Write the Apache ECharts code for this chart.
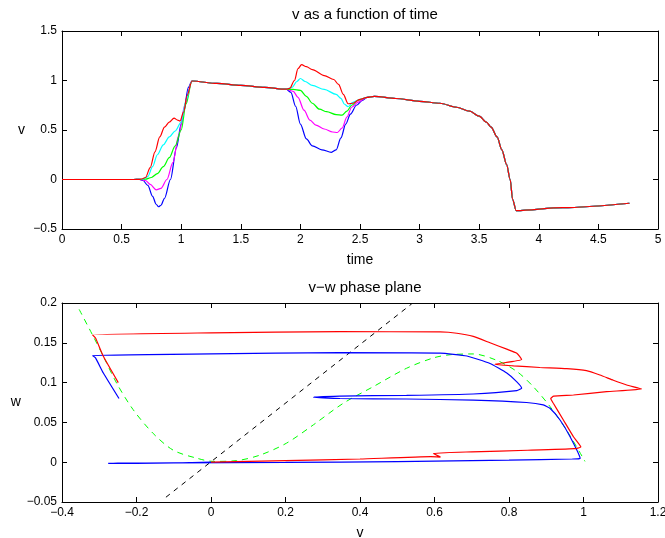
<!DOCTYPE html>
<html>
<head>
<meta charset="utf-8">
<script src="https://cdn.jsdelivr.net/npm/echarts@6/dist/echarts.min.js"></script>
<style>
  html, body { margin: 0; padding: 0; background: #fff; }
  #chart { width: 665px; height: 538px; }
</style>
</head>
<body>
<div id="chart"></div>
<script>
// ---- Tick labels ----
const timeTickLabels = ['0', '0.5', '1', '1.5', '2', '2.5', '3', '3.5', '4', '4.5', '5'];
const vTickLabels = ['\u22120.5', '0', '0.5', '1', '1.5'];
const phaseVTickLabels = ['\u22120.4', '\u22120.2', '0', '0.2', '0.4', '0.6', '0.8', '1', '1.2'];
const phaseWTickLabels = ['\u22120.05', '0', '0.05', '0.1', '0.15', '0.2'];

// ---- v(t) traces: [time, v] ----
// resting segment shared by all runs
const restSegment = [[0, 0], [0.3, 0], [0.6, 0], [0.65, 0.001]];
// first excursion, one per run
const blueRise = [[0.68, -0.01], [0.72, -0.06], [0.76, -0.17], [0.79, -0.25], [0.81, -0.275], [0.83, -0.26], [0.86, -0.19], [0.91, 0.0], [0.96, 0.32], [1.0, 0.56], [1.02, 0.68], [1.06, 0.93], [1.09, 0.995]];
const magentaRise = [[0.7, -0.01], [0.74, -0.05], [0.79, -0.105], [0.83, -0.09], [0.88, 0.0], [0.93, 0.17], [0.98, 0.45], [1.03, 0.75], [1.09, 0.995]];
const greenRise = [[0.7, 0.003], [0.75, 0.02], [0.8, 0.06], [0.85, 0.13], [0.9, 0.22], [0.95, 0.34], [1.0, 0.5], [1.04, 0.76], [1.09, 0.995]];
const cyanRise = [[0.68, 0.004], [0.72, 0.03], [0.76, 0.13], [0.8, 0.25], [0.85, 0.35], [0.9, 0.43], [0.95, 0.49], [1.0, 0.58], [1.04, 0.8], [1.09, 0.995]];
const redRise = [[0.67, 0.005], [0.7, 0.02], [0.74, 0.12], [0.78, 0.28], [0.82, 0.43], [0.86, 0.53], [0.9, 0.58], [0.94, 0.62], [0.97, 0.6], [0.99, 0.59], [1.02, 0.68], [1.05, 0.85], [1.09, 0.995]];
// plateau shared by all runs
const plateauSegment = [[1.3, 0.97], [1.5, 0.95], [1.7, 0.93], [1.88, 0.912]];
// second stimulus response, one per run
const blueBump = [[1.92, 0.88], [1.96, 0.74], [2.0, 0.56], [2.05, 0.41], [2.1, 0.34], [2.18, 0.3], [2.26, 0.275], [2.3, 0.3], [2.34, 0.42], [2.38, 0.56], [2.42, 0.66], [2.47, 0.75], [2.52, 0.8], [2.56, 0.83]];
const magentaBump = [[1.94, 0.89], [1.98, 0.83], [2.03, 0.7], [2.08, 0.6], [2.13, 0.55], [2.2, 0.51], [2.27, 0.48], [2.31, 0.475], [2.35, 0.52], [2.39, 0.63], [2.43, 0.73], [2.48, 0.78], [2.56, 0.83]];
const greenBump = [[1.94, 0.91], [2.0, 0.9], [2.05, 0.84], [2.1, 0.77], [2.16, 0.71], [2.22, 0.685], [2.3, 0.655], [2.35, 0.65], [2.39, 0.69], [2.43, 0.75], [2.48, 0.8], [2.56, 0.83]];
const cyanBump = [[1.93, 0.93], [1.97, 0.99], [2.0, 1.02], [2.04, 0.99], [2.1, 0.95], [2.2, 0.91], [2.3, 0.86], [2.34, 0.82], [2.37, 0.76], [2.4, 0.735], [2.44, 0.78], [2.5, 0.81], [2.56, 0.83]];
const redBump = [[1.91, 0.92], [1.95, 1.0], [1.98, 1.12], [2.01, 1.16], [2.05, 1.14], [2.1, 1.11], [2.2, 1.05], [2.28, 1.01], [2.32, 0.96], [2.36, 0.86], [2.4, 0.765], [2.44, 0.77], [2.5, 0.81], [2.56, 0.83]];
// repolarisation and recovery shared by all runs
const tailSegment = [[2.62, 0.84], [2.8, 0.818], [3.0, 0.79], [3.17, 0.77], [3.31, 0.73], [3.42, 0.69], [3.5, 0.64], [3.56, 0.58], [3.6, 0.53], [3.65, 0.43], [3.69, 0.3], [3.73, 0.15], [3.76, 0.0], [3.78, -0.2], [3.81, -0.315], [4.2, -0.285], [4.76, -0.24]];

// ---- phase plane: [v, w] ----
const redPhase = [[0, 0], [0.2, 0.002], [0.4, 0.004], [0.59, 0.007], [0.616, 0.0065], [0.597, 0.011], [0.7, 0.013], [0.85, 0.015], [0.975, 0.017], [0.993, 0.019], [0.973, 0.032], [0.946, 0.053], [0.919, 0.074], [0.912, 0.08], [0.92, 0.083], [0.973, 0.0844], [1.062, 0.0886], [1.156, 0.092], [1.116, 0.097], [1.08, 0.103], [1.044, 0.1095], [1.008, 0.115], [0.955, 0.1175], [0.883, 0.119], [0.812, 0.121], [0.762, 0.123], [0.834, 0.129], [0.821, 0.137], [0.794, 0.142], [0.749, 0.15], [0.704, 0.158], [0.66, 0.162], [0.615, 0.1636], [0.346, 0.164], [0.0, 0.1625], [-0.318, 0.16], [-0.31, 0.156], [-0.289, 0.133], [-0.249, 0.1]];
const bluePhase = [[0, 0], [-0.1, -0.001], [-0.2, -0.0015], [-0.276, -0.0015], [-0.25, -0.0012], [-0.1, -0.0008], [0.2, -0.0003], [0.5, 0.0008], [0.8, 0.0025], [0.97, 0.004], [0.991, 0.0048], [0.964, 0.032], [0.937, 0.053], [0.91, 0.0677], [0.892, 0.072], [0.847, 0.075], [0.704, 0.078], [0.525, 0.0794], [0.346, 0.08], [0.275, 0.0815], [0.346, 0.083], [0.525, 0.084], [0.704, 0.0857], [0.821, 0.09], [0.834, 0.093], [0.821, 0.101], [0.794, 0.112], [0.749, 0.124], [0.687, 0.1334], [0.615, 0.137], [0.346, 0.1376], [0.0, 0.136], [-0.318, 0.134], [-0.31, 0.131], [-0.289, 0.112], [-0.247, 0.08]];
// v-nullcline (dashed green) and w-nullcline (dashed black)
const vNullcline = [[-0.354, 0.192], [-0.316, 0.158], [-0.289, 0.133], [-0.253, 0.099], [-0.209, 0.066], [-0.155, 0.036], [-0.101, 0.015], [-0.038, 0.005], [0.006, 0.001], [0.069, 0.002], [0.132, 0.009], [0.203, 0.024], [0.275, 0.047], [0.355, 0.074], [0.436, 0.095], [0.525, 0.118], [0.597, 0.131], [0.642, 0.135], [0.704, 0.136], [0.767, 0.128], [0.821, 0.114], [0.865, 0.095], [0.91, 0.07], [0.955, 0.04], [1.004, 0.001]];
const wNullcline = [[-0.121, -0.044], [0.539, 0.199]];

const run = (...parts) => parts.flat();

const FONT = 'Liberation Sans, Arial, Helvetica, sans-serif';
const labelFromList = (list, min, step) => (val) => list[Math.round((val - min) / step)] ?? '';

function axisPair(kind, grid, min, max, step, labels, name, nameGap) {
  const common = {
    type: 'value', gridIndex: grid, min, max, interval: step,
    axisLine: { show: true, onZero: false, lineStyle: { color: '#000', width: 1 } },
    axisTick: { show: true, inside: true, length: 5, lineStyle: { color: '#000', width: 1 } },
    splitLine: { show: false },
  };
  const main = Object.assign({}, common, {
    position: kind === 'x' ? 'bottom' : 'left',
    axisLabel: {
      show: true, color: '#000', fontSize: 12, fontFamily: FONT, margin: 5,
      formatter: labelFromList(labels, min, step), showMinLabel: true, showMaxLabel: true,
    },
    name, nameLocation: 'middle', nameGap, nameRotate: 0,
    nameTextStyle: { color: '#000', fontSize: 14, fontFamily: FONT },
  });
  const mirror = Object.assign({}, common, {
    position: kind === 'x' ? 'top' : 'right',
    axisLabel: { show: false },
  });
  return [main, mirror];
}

const line = (name, data, color, xi, yi, extra) => Object.assign({
  name, type: 'line', data, xAxisIndex: xi, yAxisIndex: yi,
  showSymbol: false, symbol: 'none', animation: false,
  lineStyle: { color, width: 1.2 }, z: 2,
}, extra || {});

const chart = echarts.init(document.getElementById('chart'), null, { renderer: 'canvas' });

chart.setOption({
  backgroundColor: '#fff',
  animation: false,
  title: [
    { text: 'v as a function of time', left: 360, top: 2, textAlign: 'center',
      textStyle: { fontSize: 15, fontWeight: 'normal', color: '#000', fontFamily: FONT } },
    { text: 'v\u2212w phase plane', left: 360, top: 275, textAlign: 'center',
      textStyle: { fontSize: 15, fontWeight: 'normal', color: '#000', fontFamily: FONT } },
  ],
  grid: [
    { left: 62, top: 31, width: 596, height: 198, outerBoundsMode: 'none', containLabel: false },
    { left: 62, top: 303, width: 596, height: 199, outerBoundsMode: 'none', containLabel: false },
  ],
  xAxis: [
    ...axisPair('x', 0, 0, 5, 0.5, timeTickLabels, 'time', 24),
    ...axisPair('x', 1, -0.4, 1.2, 0.2, phaseVTickLabels, 'v', 24),
  ],
  yAxis: [
    ...axisPair('y', 0, -0.5, 1.5, 0.5, vTickLabels, 'v', 37),
    ...axisPair('y', 1, -0.05, 0.2, 0.05, phaseWTickLabels, 'w', 37),
  ],
  series: [
    line('blue', run(restSegment, blueRise, plateauSegment, blueBump, tailSegment), '#0000ff', 0, 0, { smooth: 0.3, smoothMonotone: 'x' }),
    line('magenta', run(restSegment, magentaRise, plateauSegment, magentaBump, tailSegment), '#ff00ff', 0, 0, { smooth: 0.3, smoothMonotone: 'x' }),
    line('green', run(restSegment, greenRise, plateauSegment, greenBump, tailSegment), '#00ff00', 0, 0, { smooth: 0.3, smoothMonotone: 'x' }),
    line('cyan', run(restSegment, cyanRise, plateauSegment, cyanBump, tailSegment), '#00ffff', 0, 0, { smooth: 0.3, smoothMonotone: 'x' }),
    line('red', run(restSegment, redRise, plateauSegment, redBump, tailSegment), '#ff0000', 0, 0, { smooth: 0.3, smoothMonotone: 'x' }),

    line('v-nullcline', vNullcline, '#00ff00', 2, 2, { smooth: 0.3, lineStyle: { color: '#00ff00', width: 1, type: [6, 5] } }),
    line('w-nullcline', wNullcline, '#000000', 2, 2, { lineStyle: { color: '#000', width: 1, type: [5, 5] } }),
    line('blue orbit', bluePhase, '#0000ff', 2, 2, { smooth: 0.15 }),
    line('red orbit', redPhase, '#ff0000', 2, 2, { smooth: 0.15 }),
  ],
});
</script>
</body>
</html>
